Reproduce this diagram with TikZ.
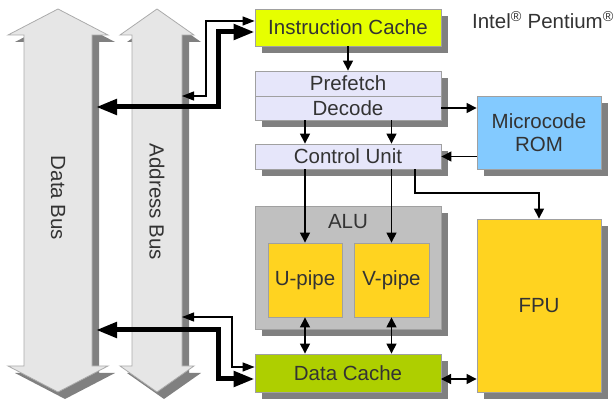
\documentclass[tikz,border=0pt]{standalone}
\usepackage{fontspec}
\setmainfont{Liberation Sans}
\usetikzlibrary{arrows.meta,shadows}
\definecolor{busfill}{HTML}{E6E6E6}
\definecolor{busline}{HTML}{ABABAB}
\definecolor{shadowgray}{HTML}{808080}
\definecolor{boxline}{HTML}{A0A0A0}
\definecolor{txt}{HTML}{333333}
\definecolor{icfill}{HTML}{E6FF00}
\definecolor{dcfill}{HTML}{AECF00}
\definecolor{pipefill}{HTML}{FFD320}
\definecolor{romfill}{HTML}{83CAFF}
\definecolor{lavender}{HTML}{E6E6FA}
\definecolor{alufill}{HTML}{C0C0C0}
\begin{document}
\begin{tikzpicture}[x=1pt,y=-1pt,
  font=\fontsize{20.5}{23}\selectfont,
  box/.style={draw=boxline, line width=0.8pt, text=txt, inner sep=0pt, align=center},
  shadowed/.style={drop shadow={shadow xshift=7pt,shadow yshift=-7pt,fill=shadowgray,opacity=1}},
  bus/.style={fill=busfill, draw=busline, line width=0.8pt},
  busshadow/.style={fill=shadowgray},
  arr/.style={line width=1.2pt, -{Triangle[length=10pt,width=10pt]}},
  darr/.style={line width=1.2pt, {Triangle[length=10pt,width=10pt]}-{Triangle[length=10pt,width=10pt]}},
  thinlink/.style={line width=1.3pt, {Triangle[length=12pt,width=9pt]}-{Triangle[length=12pt,width=9pt]}},
  biglink/.style={line width=5pt, {Triangle[length=21pt,width=15pt]}-{Triangle[length=21pt,width=15pt]}},
  lbl/.style={text=txt}]
\useasboundingbox (0,0) rectangle (614,403);

% ---- buses (double-headed block arrows with shadows) ----
\begin{scope}[shift={(7,7)}]
  \fill[busshadow] (58,9) -- (108,35) -- (92,35) -- (92,366) -- (108,366) -- (58,392)
    -- (8,366) -- (24,366) -- (24,35) -- (8,35) -- cycle;
  \fill[busshadow] (157,9) -- (194,35) -- (182,35) -- (182,366) -- (194,366) -- (157,392)
    -- (120,366) -- (132,366) -- (132,35) -- (120,35) -- cycle;
\end{scope}
\filldraw[bus] (58,9) -- (108,35) -- (92,35) -- (92,366) -- (108,366) -- (58,392)
  -- (8,366) -- (24,366) -- (24,35) -- (8,35) -- cycle;
\filldraw[bus] (157,9) -- (194,35) -- (182,35) -- (182,366) -- (194,366) -- (157,392)
  -- (120,366) -- (132,366) -- (132,35) -- (120,35) -- cycle;
\node[lbl, rotate=-90] (databus) at (58,198) {Data Bus};
\node[lbl, rotate=-90] (addrbus) at (157,202) {Address Bus};

% ---- functional blocks ----
\node[box, shadowed, fill=icfill, minimum width=186pt, minimum height=37pt] (ic) at (348,27.5) {Instruction Cache};
\node[box, shadowed, fill=lavender, minimum width=186pt, minimum height=25pt] (pf) at (348,83.5) {Prefetch};
\node[box, shadowed, fill=lavender, minimum width=186pt, minimum height=24pt] (dec) at (348,108) {Decode};
\node[box, shadowed, fill=lavender, minimum width=186pt, minimum height=25pt] (cu) at (348,156.5) {Control Unit};
\node[box, shadowed, fill=romfill, minimum width=124pt, minimum height=73pt] (rom) at (539,132.5) {Microcode\\ROM};
\node[box, shadowed, fill=alufill, minimum width=186pt, minimum height=123pt] (alu) at (348,267.5) {};
\node[lbl] (alulabel) at (348,222) {ALU};
\node[box, fill=pipefill, minimum width=74pt, minimum height=74pt] (up) at (305,280) {U-pipe};
\node[box, fill=pipefill, minimum width=75pt, minimum height=74pt] (vp) at (391.5,280) {V-pipe};
\node[box, shadowed, fill=dcfill, minimum width=186pt, minimum height=38pt] (dc) at (348,373) {Data Cache};
\node[box, shadowed, fill=pipefill, minimum width=124pt, minimum height=173pt] (fpu) at (539,305.5) {FPU};
\node[lbl] (title) at (543,20) {Intel\textsuperscript{\textregistered} Pentium\textsuperscript{\textregistered}};

% ---- internal connections ----
\draw[arr] (ic) -- (pf);
\draw[arr] (dec.south -| up) -- (cu.north -| up);
\draw[arr] (dec.south -| vp) -- (cu.north -| vp);
\draw[arr] (dec.east) -- (dec.east -| rom.west);
\draw[arr] (rom.west |- cu.east) -- (cu.east);
\draw[arr] (cu.south -| up) -- (up.north);
\draw[arr] (cu.south -| vp) -- (vp.north);
\coordinate (cubend) at (415,193);
\draw[arr] (cubend |- cu.south) -- (cubend) -| (fpu.north);
\draw[darr] (up.south) -- (dc.north -| up);
\draw[darr] (vp.south) -- (dc.north -| vp);
\coordinate (dcfpu) at (441,379);
\draw[darr] (dcfpu) -- (dcfpu -| fpu.west);

% ---- bus connections ----
\coordinate (abTop) at (182,96);
\coordinate (dbTop) at (96,107);
\coordinate (abLow) at (182,317);
\coordinate (dbLow) at (96,330);
\draw[thinlink] (abTop) -- (206,96) |- ([yshift=6.5pt]ic.west);
\draw[biglink] (dbTop) -- (218,107) |- ([yshift=-4.5pt]ic.west);
\draw[thinlink] (abLow) -- (232,317) |- ([yshift=6pt]dc.west);
\draw[biglink] (dbLow) -- (218,330) |- ([yshift=-6pt]dc.west);
\end{tikzpicture}
\end{document}
